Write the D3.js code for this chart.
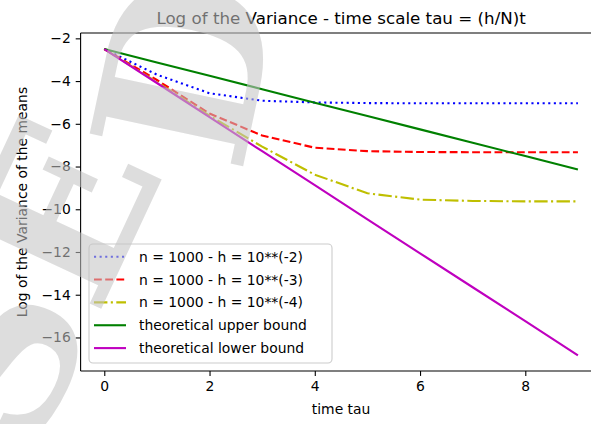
<!DOCTYPE html>
<html>
<head>
<meta charset="utf-8">
<script src="https://cdn.jsdelivr.net/npm/d3@7"></script>
<style>
  body { margin: 0; background: #fff; }
  text { font-family: "DejaVu Sans", sans-serif; }
</style>
</head>
<body>
<svg id="chart" width="591" height="424"></svg>
<script>
// values
var tau = [0, 1, 2, 3, 4, 5, 6, 7, 8, 9];
var h2 = [-2.5, -3.70, -4.57, -4.92, -5.00, -5.03, -5.04, -5.04, -5.04, -5.04];
var h3 = [-2.5, -3.95, -5.52, -6.55, -7.12, -7.28, -7.32, -7.33, -7.33, -7.33];
var h4 = [-2.5, -4.05, -5.62, -7.07, -8.38, -9.25, -9.55, -9.61, -9.63, -9.63];
var upper = [-2.5, -3.13, -3.75, -4.38, -5.01, -5.63, -6.26, -6.89, -7.51, -8.14];
var lower = [-2.5, -4.09, -5.69, -7.28, -8.87, -10.47, -12.06, -13.65, -15.24, -16.84];
var xTicks = [0, 2, 4, 6, 8];
var yTicks = [-2, -4, -6, -8, -10, -12, -14, -16];
var labels = ["n = 1000 - h = 10**(-2)", "n = 1000 - h = 10**(-3)", "n = 1000 - h = 10**(-4)",
              "theoretical upper bound", "theoretical lower bound"];

(function () {
    var series = [
        {name: labels[0], values: h2, color: "#0000ff", dash: "2.1,3.5"},
        {name: labels[1], values: h3, color: "#ff0000", dash: "7.8,3.4"},
        {name: labels[2], values: h4, color: "#bfbf00", dash: "13.4,3.4,2.1,3.4"},
        {name: labels[3], values: upper, color: "#008000", dash: null},
        {name: labels[4], values: lower, color: "#bf00bf", dash: null}
    ];

    var svg = d3.select("#chart");
    var pl = 80.6, pr = 601.6, pt = 33, pb = 371;
    var fs = 13.9;

    var x = d3.scaleLinear().domain([-0.45, 9.45]).range([pl, pr]);
    var y = d3.scaleLinear().domain([-1.75, -17.57]).range([pt, pb]);

    var fmt = function (d) { return String(d).replace("-", "\u2212"); };

    // lines
    var line = d3.line().x(function (d, i) { return x(tau[i]); }).y(function (d) { return y(d); });
    svg.selectAll("path.series").data(series).enter().append("path")
        .attr("class", "series")
        .attr("d", function (s) { return line(s.values); })
        .attr("fill", "none")
        .attr("stroke", function (s) { return s.color; })
        .attr("stroke-width", 2.1)
        .attr("stroke-dasharray", function (s) { return s.dash; });

    // axes
    var xAxis = svg.append("g").attr("transform", "translate(0," + pb + ")")
        .call(d3.axisBottom(x).tickValues(xTicks).tickSize(4.9).tickPadding(4.9).tickFormat(fmt));
    var yAxis = svg.append("g").attr("transform", "translate(" + pl + ",0)")
        .call(d3.axisLeft(y).tickValues(yTicks).tickSize(4.9).tickPadding(4.9).tickFormat(fmt));
    [xAxis, yAxis].forEach(function (g) {
        g.select(".domain").remove();
        g.selectAll("line").attr("stroke", "#000").attr("stroke-width", 1.1);
        g.selectAll("text").attr("font-size", fs).attr("fill", "#000")
            .style("font-family", "DejaVu Sans");
    });
    // spines (left, bottom, top; the right one is outside the picture)
    svg.append("line").attr("x1", pl).attr("x2", pl).attr("y1", pt).attr("y2", pb)
        .attr("stroke", "#000").attr("stroke-width", 1.1);
    svg.append("line").attr("x1", pl).attr("x2", pr).attr("y1", pb).attr("y2", pb)
        .attr("stroke", "#000").attr("stroke-width", 1.1);
    svg.append("line").attr("x1", pl).attr("x2", pr).attr("y1", pt).attr("y2", pt)
        .attr("stroke", "#000").attr("stroke-width", 1.1);

    // title and labels
    svg.append("text").attr("x", (pl + pr) / 2).attr("y", 24).attr("text-anchor", "middle")
        .attr("font-size", 16.7).text("Log of the Variance - time scale tau = (h/N)t");
    svg.append("text").attr("x", (pl + pr) / 2).attr("y", 414).attr("text-anchor", "middle")
        .attr("font-size", fs).text("time tau");
    svg.append("text").attr("transform", "translate(27," + (pt + pb) / 2 + ") rotate(-90)")
        .attr("text-anchor", "middle").attr("font-size", fs).text("Log of the Variance of the means");

    // legend
    var legend = svg.append("g");
    legend.append("rect").attr("x", 89).attr("y", 244).attr("width", 243).attr("height", 119)
        .attr("rx", 4).attr("fill", "#fff").attr("fill-opacity", 0.8)
        .attr("stroke", "#ccc").attr("stroke-width", 1.1);
    var rows = legend.selectAll("g.row").data(series).enter().append("g")
        .attr("class", "row")
        .attr("transform", function (s, i) { return "translate(0," + (256.7 + i * 22.85) + ")"; });
    rows.append("line").attr("x1", 94).attr("x2", 126).attr("y1", 0).attr("y2", 0)
        .attr("stroke", function (s) { return s.color; }).attr("stroke-width", 2.1)
        .attr("stroke-dasharray", function (s) { return s.dash; });
    rows.append("text").attr("x", 139).attr("y", 5).attr("font-size", fs)
        .text(function (s) { return s.name; });

    // watermark letters, drawn over everything
    // (for "SE" the origin is where the E starts)
    var marks = [
        {text: "D", at: [241, 176], angle: -78, skip: 0},
        {text: "SE", at: [97, 318], angle: -65, skip: 1}
    ];
    marks.forEach(function (m) {
        svg.append("g").attr("transform", "translate(" + m.at + ") rotate(" + m.angle + ")")
            .attr("opacity", 0.57)
            .append("text").attr("font-size", 215).attr("font-weight", "bold")
            .attr("fill", "#c4c4c4").style("font-family", "DejaVu Serif")
            .text(m.text)
            .attr("x", function () { return m.skip ? -this.getSubStringLength(0, m.skip) : 0; });
    });
})();
</script>
</body>
</html>
